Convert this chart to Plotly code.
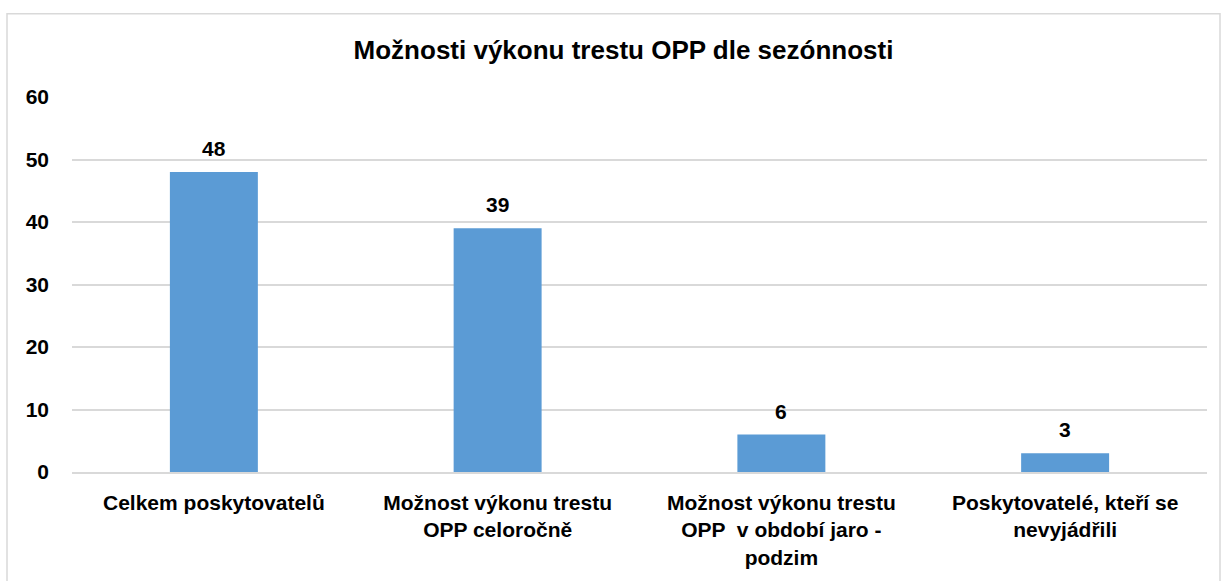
import plotly.graph_objects as go

categories = [
    "Celkem poskytovatelů",
    "Možnost výkonu trestu<br>OPP celoročně",
    "Možnost výkonu trestu<br>OPP  v období jaro -<br>podzim",
    "Poskytovatelé, kteří se<br>nevyjádřili",
]
values = [48, 39, 6, 3]
title_text = "Možnosti výkonu trestu OPP dle sezónnosti"

W, H = 1225, 581
L, R, T, B = 72, 18, 97, 106
pw, ph = W - L - R, H - T - B

font_family = "Liberation Sans, Arial, sans-serif"

fig = go.Figure(
    go.Bar(
        x=categories,
        y=values,
        marker=dict(color="#5b9bd5", line=dict(width=0)),
        width=0.31,
        hoverinfo="x+y",
    )
)

# data labels above bars
for c, v in zip(categories, values):
    fig.add_annotation(
        x=c,
        y=v,
        text="<b>" + str(v) + "</b>",
        showarrow=False,
        yanchor="bottom",
        yshift=10,
        font=dict(family=font_family, size=21, color="#000000"),
    )

fig.update_layout(
    width=W,
    height=H,
    margin=dict(l=L, r=R, t=T, b=B),
    paper_bgcolor="white",
    plot_bgcolor="white",
    showlegend=False,
    title=dict(
        text="<b>" + title_text + "</b>",
        x=(345 + 902) / 2 / W,
        xanchor="center",
        y=1 - 50 / H,
        yanchor="middle",
        font=dict(family=font_family, size=26, color="#000000"),
    ),
    font=dict(family=font_family, color="#000000"),
    bargap=0.69,
)

fig.update_xaxes(
    showgrid=False,
    showline=True,
    linecolor="#d9d9d9",
    linewidth=1.5,
    ticks="",
    tickfont=dict(family=font_family, size=21, color="#000000", weight="bold"),
    ticklabelstandoff=11,
)
fig.update_yaxes(
    range=[0, 60],
    dtick=10,
    showgrid=True,
    gridcolor="#d9d9d9",
    gridwidth=1.5,
    zeroline=False,
    showline=False,
    ticks="",
    tickfont=dict(family=font_family, size=21, color="#000000", weight="bold"),
    ticklabelstandoff=22,
)

# outer chart border (bottom edge runs past the visible area)
fig.add_shape(
    type="rect",
    xref="paper",
    yref="paper",
    x0=(7 - L) / pw,
    x1=(1220 - L) / pw,
    y0=(H - B - 600) / ph,
    y1=(H - B - 13) / ph,
    line=dict(color="#d9d9d9", width=1.5),
    fillcolor="rgba(0,0,0,0)",
    layer="below",
)

fig.write_html(
    "out.html",
    config={"displayModeBar": False},
    post_script="document.body.style.margin='0px';document.body.style.overflow='hidden';",
)
